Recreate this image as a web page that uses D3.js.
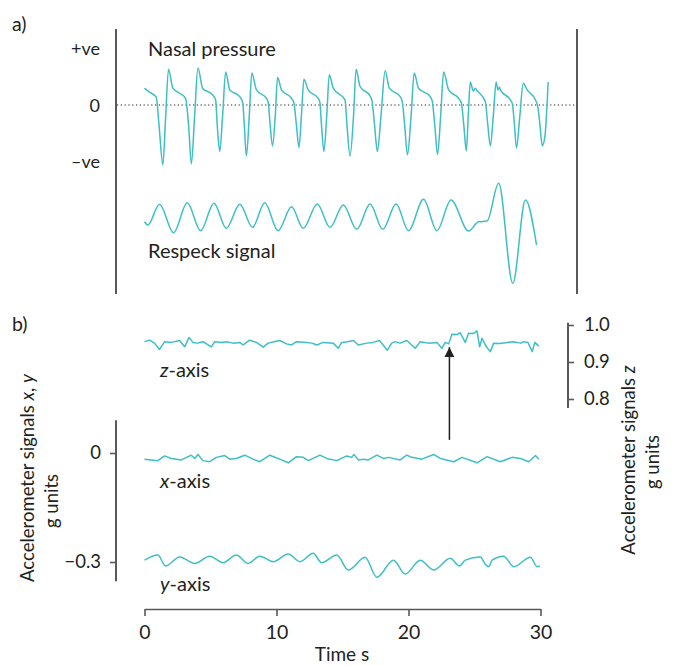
<!DOCTYPE html>
<html>
<head>
<meta charset="utf-8">
<script src="https://cdn.jsdelivr.net/npm/d3@7"></script>
<style>
    body { margin: 0; background: #fff; }
    #chart text { font-family: Lato, "Noto Sans", sans-serif; fill: #231f20; }
    #chart .trace { fill: none; stroke: #3dbfc4; stroke-width: 1.5; stroke-linejoin: round; }
    #chart .frame { stroke: #58595b; stroke-width: 2; }
</style>
</head>
<body>
<div id="chart"></div>
<script>
    // ---- data (time in s) ----
    // a) nasal pressure, arbitrary units (+ve = 1, -ve = -1)
    const nasalTime = [
        0, 0.38, 0.89,
        1.10, 1.39, 1.59, 1.82, 2.15, 2.66, 3.11,
        3.34, 3.55, 3.80, 4.05, 4.40, 5.16, 5.39,
        5.51, 5.70, 5.92, 6.15, 6.46, 7.21, 7.44,
        7.56, 7.72, 7.94, 8.13, 8.48, 9.24, 9.38,
        9.49, 9.70, 9.91, 10.08, 10.38, 11.14, 11.32,
        11.51, 11.70, 11.89, 12.08, 12.40, 13.16, 13.29,
        13.41, 13.59, 13.81, 14.00, 14.30, 15.19,
        15.34, 15.57, 15.84, 16.03, 16.33, 17.09, 17.24,
        17.43, 17.64, 17.92, 18.23, 18.55, 19.37, 19.52,
        19.71, 19.92, 20.20, 20.43, 20.76, 21.65, 21.80,
        21.99, 22.20, 22.44, 22.66, 23.04, 23.79, 24.00,
        24.19, 24.38, 24.53, 24.68, 24.91, 25.06, 25.19, 25.82,
        26.01, 26.20, 26.43, 26.64, 26.77, 26.89, 26.96, 27.72, 27.87,
        28.03, 28.18, 28.44, 28.69, 28.99, 29.62, 29.81,
        29.96, 30.13, 30.33, 30.58
    ];
    const nasalValue = [
        0.30, 0.23, 0.14,
        -0.36, -1.07, -0.27, 0.64, 0.30, 0.21, 0.12,
        -0.36, -1.05, -0.18, 0.66, 0.30, 0.18, 0.09,
        -0.36, -0.83, -0.18, 0.59, 0.27, 0.15, 0.05,
        -0.36, -0.91, -0.18, 0.57, 0.27, 0.12, 0.04,
        -0.27, -0.73, -0.18, 0.49, 0.27, 0.12, 0.04,
        -0.36, -0.76, -0.18, 0.46, 0.27, 0.12, 0.04,
        -0.36, -0.83, -0.18, 0.54, 0.30, 0.09,
        -0.36, -0.91, -0.18, 0.64, 0.33, 0.16, 0.07,
        -0.36, -0.83, -0.18, 0.61, 0.30, 0.15, 0.07,
        -0.36, -0.89, -0.18, 0.57, 0.30, 0.15, 0.07,
        -0.36, -0.88, -0.18, 0.59, 0.27, 0.12, 0.04,
        -0.36, -0.82, -0.18, 0.41, 0.25, 0.30, 0.26, 0.06,
        -0.36, -0.73, -0.18, 0.41, 0.27, 0.32, 0.27, 0.09, 0.02,
        -0.36, -0.77, -0.18, 0.39, 0.27, 0.09, -0.05,
        -0.36, -0.73, -0.57, 0.41
    ];

    // a) Respeck signal, arbitrary units
    const respeckTime = [0, 0.25, 1.14, 2.20, 3.24, 4.25, 5.26, 6.20, 7.22, 8.18,
        9.11, 10.12, 11.14, 12.02, 13.09, 14.05, 15.06, 16.08, 17.09, 18.05,
        19.06, 20.00, 21.14, 22.15, 23.22, 24.55, 25.31, 25.95, 26.83, 27.90,
        28.86, 29.70];
    const respeckValue = [-0.34, -0.57, 0.91, -1.12, 1.02, -0.98, 0.98, -0.81, 0.91, -0.74,
        1.02, -0.98, 0.74, -0.81, 0.93, -0.74, 0.86, -0.88, 0.93, -0.88,
        0.93, -0.98, 1.26, -0.98, 1.21, -1.00, -0.34, -0.29, 2.41, -4.74,
        1.21, -2.00];

    // b) accelerometer z, g units
    const zTime = [0, 0.38, 0.76, 1.14, 1.52, 2.03, 2.66, 3.04, 3.37, 3.67, 4.0,
        4.43, 5.06, 5.32, 5.8, 6.20, 6.71, 7.22, 7.47, 7.97, 8.48, 8.99,
        9.37, 9.8, 10.25, 10.76, 11.14, 11.52, 12.28, 12.7, 13.04, 13.54, 14.30, 14.68,
        14.94, 15.4, 15.82, 16.20, 16.84, 17.3, 17.80, 18.40, 18.73, 19.0, 19.37, 19.87, 20.51,
        20.89, 21.2, 21.52, 22.15, 22.53, 22.78, 23.04, 23.29, 23.67, 23.92, 24.30,
        24.55, 24.93, 25.19, 25.39, 25.57, 25.90, 26.20, 26.45, 26.9, 27.47, 27.9, 28.23,
        28.5, 28.73, 29.05, 29.37, 29.57, 29.87];
    const zValue = [0.955, 0.959, 0.951, 0.934, 0.955, 0.953, 0.958, 0.941, 0.966, 0.953, 0.951,
        0.955, 0.941, 0.955, 0.953, 0.955, 0.951, 0.953, 0.946, 0.959, 0.953, 0.940,
        0.951, 0.955, 0.958, 0.949, 0.946, 0.955, 0.953, 0.951, 0.946, 0.953, 0.951, 0.937,
        0.953, 0.955, 0.958, 0.946, 0.951, 0.953, 0.958, 0.932, 0.951, 0.955, 0.951, 0.958, 0.937,
        0.955, 0.953, 0.951, 0.953, 0.937, 0.953, 0.949, 0.975, 0.974, 0.979, 0.953,
        0.978, 0.977, 0.984, 0.941, 0.964, 0.941, 0.928, 0.951, 0.950, 0.953, 0.955, 0.953,
        0.951, 0.955, 0.953, 0.928, 0.953, 0.943];

    // b) accelerometer x, g units
    const xTime = [0, 1.01, 1.52, 2.03, 2.79, 3.55, 3.80, 4.05, 4.43, 4.94,
        5.44, 6.08, 6.46, 6.96, 7.59, 8.23, 8.73, 9.49, 10.25, 10.89,
        11.52, 12.03, 12.41, 13.29, 13.80, 14.56, 15.32, 15.70, 15.87, 16.20,
        16.58, 16.96, 17.60, 18.10, 18.48, 19.37, 19.87, 20.25, 21.01, 21.90,
        22.41, 23.42, 24.05, 25.19, 25.95, 26.96, 27.85, 28.48, 29.11, 29.62,
        29.87];
    const xValue = [-0.017, -0.021, -0.008, -0.015, -0.019, -0.006, -0.015, -0.004, -0.021, -0.024,
        -0.012, -0.007, -0.017, -0.015, -0.006, -0.017, -0.024, -0.006, -0.017, -0.027,
        -0.010, -0.012, -0.021, -0.006, -0.015, -0.021, -0.008, -0.012, -0.004, -0.019,
        -0.017, -0.019, -0.006, -0.015, -0.012, -0.019, -0.006, -0.012, -0.017, -0.004,
        -0.015, -0.024, -0.012, -0.027, -0.010, -0.024, -0.012, -0.015, -0.024, -0.007,
        -0.017];

    // b) accelerometer y, g units
    const yTime = [0, 1.01, 1.59, 2.66, 3.80, 4.94, 5.95, 6.96, 7.85, 8.73,
        9.75, 10.89, 11.77, 12.78, 13.42, 14.56, 15.44, 16.71, 17.60, 18.86,
        19.75, 20.89, 21.90, 23.16, 23.87, 24.30, 25.44, 25.82, 26.08, 26.33,
        27.21, 27.97, 29.24, 29.75, 29.95];
    const yValue = [-0.295, -0.281, -0.311, -0.286, -0.304, -0.284, -0.302, -0.281, -0.304, -0.284,
        -0.299, -0.278, -0.299, -0.276, -0.302, -0.281, -0.322, -0.287, -0.342, -0.295,
        -0.333, -0.295, -0.322, -0.290, -0.311, -0.295, -0.286, -0.306, -0.313, -0.295,
        -0.284, -0.313, -0.287, -0.313, -0.311];

    const timeTicks = [0, 10, 20, 30];
    const xyTicks = [0, -0.3];
    const zTicks = [1.0, 0.9, 0.8];
    const arrowTime = 23.1;

    // ---- layout ----
    const width = 675, height = 666;
    const svg = d3.select("#chart").append("svg")
        .attr("width", width)
        .attr("height", height);

    const x = d3.scaleLinear().domain([0, 30]).range([144.5, 540.5]);
    const yNasal = d3.scaleLinear().domain([-1, 1]).range([161, 49]);
    const yResp = d3.scaleLinear().domain([-1, 1]).range([231, 203]);
    const yXY = d3.scaleLinear().domain([-0.3, 0]).range([562, 453]);
    const yZ = d3.scaleLinear().domain([0.8, 1.0]).range([399, 325]);

    function zip(t, v) {
        return t.map(function (d, i) { return [d, v[i]]; });
    }

    function trace(data, yScale, curve) {
        svg.append("path")
            .attr("class", "trace")
            .attr("d", d3.line()
                .x(function (d) { return x(d[0]); })
                .y(function (d) { return yScale(d[1]); })
                .curve(curve)(data));
    }

    function label(px, py, parts, size, anchor) {
        const t = svg.append("text")
            .attr("x", px).attr("y", py)
            .style("font-size", size + "px")
            .attr("text-anchor", anchor || "start");
        parts.forEach(function (p) {
            t.append("tspan")
                .style("font-style", p[1] ? "italic" : null)
                .text(p[0]);
        });
        return t;
    }

    // ---- panel a ----
    label(12, 31, [["a)"]], 19.5);
    svg.append("line").attr("class", "frame")
        .attr("x1", 116).attr("x2", 116).attr("y1", 29).attr("y2", 294);
    svg.append("line").attr("class", "frame")
        .attr("x1", 577).attr("x2", 577).attr("y1", 29).attr("y2", 294);
    svg.append("line")
        .attr("x1", 117).attr("x2", 576)
        .attr("y1", yNasal(0)).attr("y2", yNasal(0))
        .attr("stroke", "#231f20").attr("stroke-width", 1.2)
        .attr("stroke-dasharray", "1.2,2.6");

    label(100, yNasal(1) + 6, [["+ve"]], 18, "end");
    label(100, yNasal(0) + 6.5, [["0"]], 18, "end");
    label(100, yNasal(-1) + 6.5, [["\u2013ve"]], 18, "end");

    label(148, 56, [["Nasal pressure"]], 20);
    label(148, 258, [["Respeck signal"]], 20);

    trace(zip(nasalTime, nasalValue), yNasal, d3.curveMonotoneX);
    trace(zip(respeckTime, respeckValue), yResp, d3.curveMonotoneX);

    // ---- panel b ----
    label(12, 331, [["b)"]], 19.5);

    // left axis (x, y signals)
    const axXY = svg.append("g")
        .attr("transform", "translate(116,0)")
        .call(d3.axisLeft(yXY).tickValues(xyTicks).tickSize(6).tickPadding(9)
            .tickFormat(function (d) { return d === 0 ? "0" : d3.format(".1f")(d).replace("-", "\u2212"); }));
    axXY.select(".domain").remove();
    axXY.append("line").attr("class", "frame")
        .attr("y1", yXY(0.09)).attr("y2", yXY(-0.353));

    // right axis (z signal)
    const axZ = svg.append("g")
        .attr("transform", "translate(568,0)")
        .call(d3.axisRight(yZ).tickValues(zTicks).tickSize(6).tickPadding(10)
            .tickFormat(d3.format(".1f")));
    axZ.select(".domain").remove();
    axZ.append("line").attr("class", "frame")
        .attr("y1", yZ(1.006)).attr("y2", yZ(0.776));

    // time axis
    const axT = svg.append("g")
        .attr("transform", "translate(0,609)")
        .call(d3.axisBottom(x).tickValues(timeTicks).tickSize(7).tickSizeOuter(0).tickPadding(9));

    [axXY, axZ, axT].forEach(function (g) {
        g.selectAll(".tick line").attr("stroke", "#58595b").attr("stroke-width", 1.6);
        g.selectAll(".domain").attr("stroke", "#58595b").attr("stroke-width", 1.6);
        g.selectAll("text").style("font-size", "18.5px").attr("fill", "#231f20");
    });
    axT.selectAll("text").style("font-size", "19.5px");

    label(342, 661, [["Time s"]], 19, "middle");

    // axis titles
    label(0, 0, [["Accelerometer signals "], ["x", true], [", "], ["y", true]], 18.5, "middle")
        .attr("transform", "translate(34,478) rotate(-90)");
    label(0, 0, [["g units"]], 18.5, "middle")
        .attr("transform", "translate(58,501) rotate(-90)");
    label(0, 0, [["Accelerometer signals "], ["z", true]], 18.5, "middle")
        .attr("transform", "translate(635,460) rotate(-90)");
    label(0, 0, [["g units"]], 18.5, "middle")
        .attr("transform", "translate(659,462) rotate(-90)");

    // traces
    trace(zip(zTime, zValue), yZ, d3.curveLinear);
    trace(zip(xTime, xValue), yXY, d3.curveLinear);
    trace(zip(yTime, yValue), yXY, d3.curveMonotoneX);

    label(160, 377, [["z", true], ["-axis"]], 20);
    label(160, 488, [["x", true], ["-axis"]], 20);
    label(160, 591, [["y", true], ["-axis"]], 20);

    // arrow to the z-axis event
    svg.append("defs").append("marker")
        .attr("id", "head")
        .attr("viewBox", "0 0 10 10")
        .attr("refX", 10).attr("refY", 5)
        .attr("markerWidth", 10).attr("markerHeight", 11)
        .attr("markerUnits", "userSpaceOnUse")
        .attr("orient", "auto")
        .append("path")
        .attr("d", "M0,0L10,5L0,10Z")
        .attr("fill", "#231f20");

    svg.append("line")
        .attr("x1", x(arrowTime)).attr("x2", x(arrowTime))
        .attr("y1", yXY(0.036)).attr("y2", yZ(0.94))
        .attr("stroke", "#231f20").attr("stroke-width", 1.5)
        .attr("marker-end", "url(#head)");
</script>
</body>
</html>
